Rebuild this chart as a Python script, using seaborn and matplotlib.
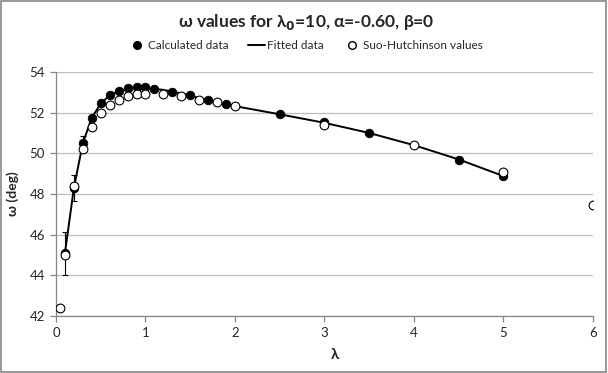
import matplotlib
matplotlib.use("Agg")
import matplotlib.pyplot as plt
import seaborn as sns
import pandas as pd
from matplotlib.lines import Line2D
from matplotlib.patches import Rectangle

# %% data
calc_x = [0.1, 0.2, 0.3, 0.4, 0.5, 0.6, 0.7, 0.8, 0.9, 1.0, 1.1, 1.3, 1.5, 1.7, 1.9,
          2.5, 3.0, 3.5, 4.5, 5.0]
calc_y = [45.1, 48.28, 50.52, 51.75, 52.46, 52.87, 53.07, 53.2, 53.25, 53.25, 53.18,
          53.0, 52.87, 52.6, 52.43, 51.92, 51.55, 51.0, 49.67, 48.87]
err_x = [0.1, 0.2, 0.3]
err_y = [45.1, 48.28, 50.52]
err_lo = [44.0, 47.65, 50.2]
err_hi = [46.15, 48.92, 50.86]

fit_x = [0.1, 0.2, 0.3, 0.4, 0.5, 0.6, 0.7, 0.8, 0.9, 1.0, 1.2, 1.4, 1.6, 1.8, 2.0,
         2.5, 3.0, 3.5, 4.0, 4.5, 5.0]
fit_y = [45.1, 48.3, 50.5, 51.75, 52.45, 52.85, 53.05, 53.18, 53.22, 53.22, 53.12,
         52.95, 52.72, 52.5, 52.32, 51.92, 51.5, 51.0, 50.4, 49.7, 48.88]

suo_x = [0.05, 0.1, 0.2, 0.3, 0.4, 0.5, 0.6, 0.7, 0.8, 0.9, 1.0, 1.2, 1.4, 1.6, 1.8,
         2.0, 3.0, 4.0, 5.0, 6.0]
suo_y = [42.4, 45.0, 48.4, 50.2, 51.28, 52.0, 52.4, 52.6, 52.82, 52.92, 52.92, 52.92,
         52.82, 52.6, 52.52, 52.34, 51.4, 50.4, 49.1, 47.46]

y_ticks = [42, 44, 46, 48, 50, 52, 54]
x_ticks = [0, 1, 2, 3, 4, 5, 6]

calc = pd.DataFrame({"x": calc_x, "y": calc_y})
fit = pd.DataFrame({"x": fit_x, "y": fit_y})
suo = pd.DataFrame({"x": suo_x, "y": suo_y})

# %% plot
sns.set_style("white")
plt.rcParams["font.family"] = ["Lato", "DejaVu Sans"]

fig = plt.figure(figsize=(6.08, 3.73), dpi=100)
ax = fig.add_axes([0.0921, 0.1528, 0.8832, 0.6542])

gray = "#868686"

ax.errorbar(err_x, err_y,
            yerr=[[y - lo for y, lo in zip(err_y, err_lo)],
                  [hi - y for y, hi in zip(err_y, err_hi)]],
            fmt="none", ecolor="black", elinewidth=0.8, capsize=2.5, capthick=0.8,
            zorder=2)

sns.lineplot(fit, x="x", y="y", color="black", linewidth=1.4, ax=ax,
             sort=False, zorder=3)

sns.scatterplot(calc, x="x", y="y", color="black", s=38, edgecolor="black",
                linewidth=0.6, ax=ax, zorder=4)

sns.scatterplot(suo, x="x", y="y", color="white", s=40, edgecolor="black",
                linewidth=0.8, ax=ax, zorder=5)

ax.set_xlim(0, 6)
ax.set_ylim(42, 54)
ax.set_xticks(x_ticks)
ax.set_yticks(y_ticks)
ax.yaxis.grid(True, color="#bdbdbd", linewidth=0.9)
ax.set_axisbelow(True)

for s in ["top", "right"]:
    ax.spines[s].set_visible(False)
for s in ["left", "bottom"]:
    ax.spines[s].set_color(gray)
    ax.spines[s].set_linewidth(0.9)

ax.tick_params(axis="both", direction="out", length=4, width=0.9, color=gray,
               labelsize=9.5, pad=4, left=True, bottom=True)

ax.set_xlabel("λ", fontsize=11, fontweight="bold")
ax.xaxis.set_label_coords(0.52, -0.13)
ax.set_ylabel("ω (deg)", fontsize=10, fontweight="bold")
ax.yaxis.set_label_coords(-0.068, 0.5)

fig.text(0.503, 0.94, "ω values for λ$_\\mathbf{0}$=10, α=-0.60, β=0",
         ha="center", va="center", fontsize=12.5, fontweight="bold")

handles = [
    Line2D([], [], marker="o", color="black", linestyle="none", markersize=5.5),
    Line2D([], [], color="black", linewidth=1.4),
    Line2D([], [], marker="o", markerfacecolor="white", markeredgecolor="black",
           linestyle="none", markersize=5.5),
]
labels = ["Calculated data", "Fitted data", "Suo-Hutchinson values"]
fig.legend(handles, labels, loc="center", bbox_to_anchor=(0.503, 0.878), ncol=3,
           frameon=False, fontsize=8.5, handlelength=1.4, columnspacing=1.7,
           handletextpad=0.2)

fig.patches.append(Rectangle((0.002, 0.003), 0.995, 0.994, transform=fig.transFigure,
                             fill=False, edgecolor=gray, linewidth=1.2))

fig.savefig("out.png", dpi=100)
